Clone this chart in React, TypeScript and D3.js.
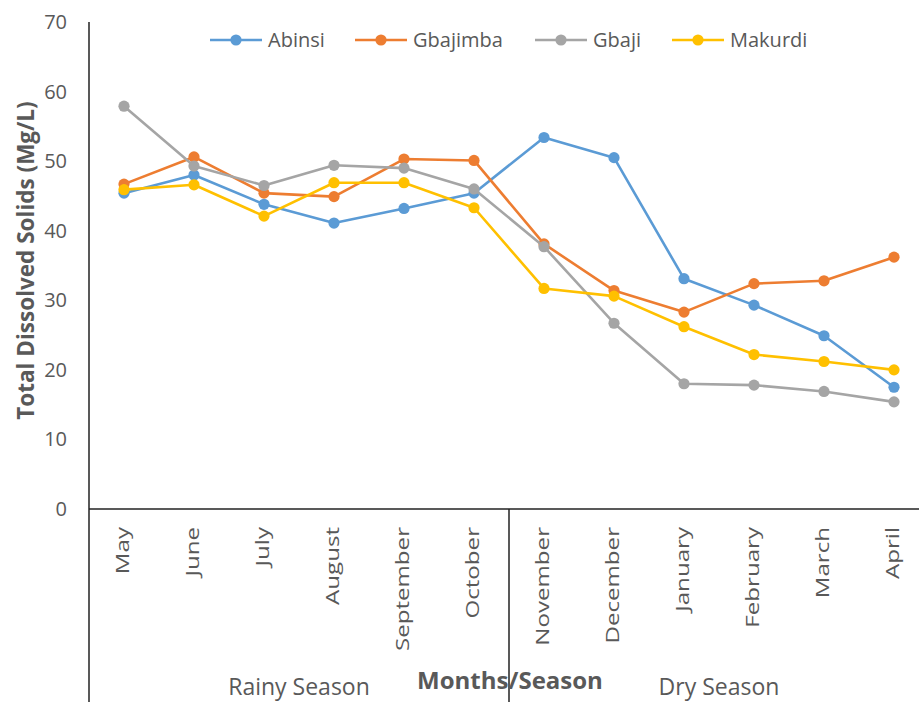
import React from "react";
import * as d3 from "d3";

const months = ["May", "June", "July", "August", "September", "October", "November", "December", "January", "February", "March", "April"];
const seasons = ["Rainy Season", "Dry Season"];
const seasonMonthCount = [6, 6];
const yTicks = [0, 10, 20, 30, 40, 50, 60, 70];

const seriesNames = ["Abinsi", "Gbajimba", "Gbaji", "Makurdi"];
const abinsi = [45.4, 48.0, 43.8, 41.1, 43.2, 45.4, 53.4, 50.5, 33.1, 29.3, 24.9, 17.5];
const gbajimba = [46.7, 50.6, 45.4, 44.9, 50.3, 50.1, 38.1, 31.4, 28.3, 32.4, 32.8, 36.2];
const gbaji = [57.9, 49.3, 46.5, 49.4, 49.0, 46.0, 37.7, 26.7, 18.0, 17.8, 16.9, 15.4];
const makurdi = [45.9, 46.6, 42.1, 46.9, 46.9, 43.3, 31.7, 30.6, 26.2, 22.2, 21.2, 20.0];
const seriesValues = [abinsi, gbajimba, gbaji, makurdi];
const colors = ["#5B9BD5", "#ED7D31", "#A5A5A5", "#FFC000"];
const legendX = [210, 355, 535, 672];

export default function App() {
  const W = 919, H = 702;
  const left = 89, top = 22, bottom = 509;
  const x = d3.scaleBand<string>().domain(months).range([left, left + 70 * months.length]).padding(0);
  const y = d3.scaleLinear().domain([0, 70]).range([bottom, top]);
  const line = d3.line<number>().x((_, i) => (x(months[i]) as number) + x.bandwidth() / 2).y((d) => y(d));
  const font = "'Open Sans', sans-serif";
  const textColor = "#595959";

  let acc = 0;
  const seasonBounds = seasonMonthCount.map((c) => {
    const s = acc; acc += c;
    return [x(months[s]) as number, (x(months[acc - 1]) as number) + x.bandwidth()];
  });

  return (
    <svg width={W} height={H} style={{ position: "absolute", left: 0, top: 0, background: "#fff" }} fontFamily={font}>
      {/* y tick labels */}
      {yTicks.map((t) => (
        <text key={t} x={67} y={y(t)} dy="0.35em" textAnchor="end" fontSize={20} fill={textColor}>{t}</text>
      ))}
      {/* y title */}
      <text transform={`translate(34,${(top + bottom) / 2 - 5}) rotate(-90)`} textAnchor="middle" fontSize={22.5} fontWeight="bold" fill={textColor}>
        Total Dissolved Solids (Mg/L)
      </text>
      {/* axes */}
      <line x1={left} x2={left} y1={top} y2={H} stroke="#222" strokeWidth={1.5} />
      <line x1={left} x2={W} y1={bottom} y2={bottom} stroke="#222" strokeWidth={1.5} />
      {seasonBounds.slice(1).map((b, i) => (
        <line key={i} x1={b[0]} x2={b[0]} y1={bottom} y2={H} stroke="#222" strokeWidth={1.5} />
      ))}
      {/* month labels */}
      {months.map((m) => (
        <text key={m} transform={`translate(${(x(m) as number) + x.bandwidth() / 2 + 5},527) rotate(-90) scale(1.34,1)`} textAnchor="end" fontSize={18} fill={textColor}>{m}</text>
      ))}
      {/* season labels */}
      {seasons.map((s, i) => (
        <text key={s} x={(seasonBounds[i][0] + seasonBounds[i][1]) / 2} y={695} textAnchor="middle" fontSize={23} fill={textColor}>{s}</text>
      ))}
      <text x={510} y={689} textAnchor="middle" fontSize={24} fontWeight="bold" fill={textColor}>Months/Season</text>
      {/* series */}
      {seriesValues.map((vals, si) => (
        <g key={seriesNames[si]}>
          <path d={line(vals) as string} fill="none" stroke={colors[si]} strokeWidth={2.6} strokeLinejoin="round" />
          {vals.map((v, i) => (
            <circle key={i} cx={(x(months[i]) as number) + x.bandwidth() / 2} cy={y(v)} r={5.6} fill={colors[si]} />
          ))}
        </g>
      ))}
      {/* legend */}
      {seriesNames.map((n, i) => (
        <g key={n} transform={`translate(${legendX[i]},40)`}>
          <line x1={0} x2={52} y1={0} y2={0} stroke={colors[i]} strokeWidth={2.6} />
          <circle cx={26} cy={0} r={5.6} fill={colors[i]} />
          <text x={58} y={0} dy="0.35em" fontSize={20} fill={textColor}>{n}</text>
        </g>
      ))}
    </svg>
  );
}
